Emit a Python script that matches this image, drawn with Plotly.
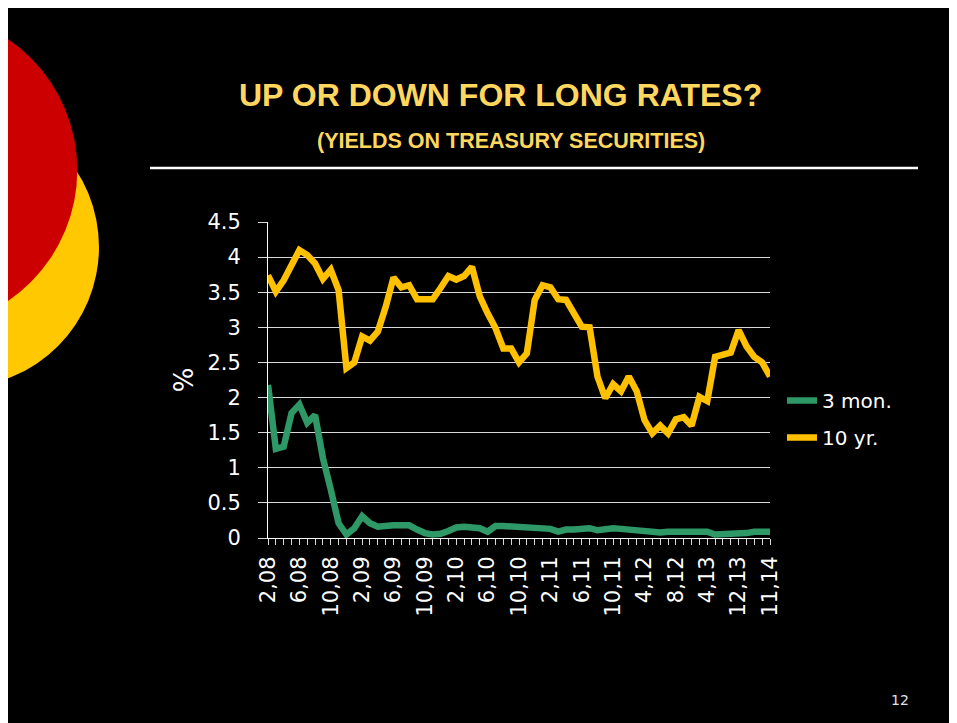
import plotly.graph_objects as go

# ---- data ----
categories = [
    "2,08", "3,08", "4,08", "5,08", "6,08", "7,08", "8,08", "9,08", "10,08", "11,08", "12,08",
    "1,09", "2,09", "3,09", "4,09", "5,09", "6,09", "7,09", "8,09", "9,09", "10,09", "11,09", "12,09",
    "1,10", "2,10", "3,10", "4,10", "5,10", "6,10", "7,10", "8,10", "9,10", "10,10", "11,10", "12,10",
    "1,11", "2,11", "3,11", "4,11", "5,11", "6,11", "7,11", "8,11", "9,11", "10,11",
    "11,11", "12,11", "2,12", "4,12", "5,12", "6,12", "7,12", "8,12", "10,12", "12,12",
    "2,13", "4,13", "6,13", "8,13", "10,13", "12,13", "3,14", "6,14", "9,14", "11,14",
]
three_mon = [2.18, 1.27, 1.30, 1.78, 1.90, 1.64, 1.75, 1.14, 0.69, 0.21,
             0.05, 0.14, 0.31, 0.21, 0.16, 0.18, 0.18, 0.18, 0.18, 0.12,
             0.07, 0.05, 0.06, 0.10, 0.15, 0.16, 0.16, 0.14, 0.09, 0.17,
             0.17, 0.16, 0.15, 0.14, 0.14, 0.12, 0.13, 0.09, 0.12, 0.12,
             0.13, 0.14, 0.11, 0.13, 0.14, 0.13, 0.12, 0.09, 0.08, 0.08,
             0.08, 0.09, 0.10, 0.09, 0.09, 0.10, 0.09, 0.05, 0.05, 0.06,
             0.06, 0.07, 0.09, 0.09, 0.09]
ten_yr = [3.74, 3.51, 3.67, 3.89, 4.10, 4.03, 3.91, 3.69, 3.82, 3.53,
          2.42, 2.50, 2.87, 2.81, 2.94, 3.29, 3.71, 3.57, 3.60, 3.40,
          3.39, 3.40, 3.56, 3.73, 3.68, 3.73, 3.86, 3.44, 3.20, 2.99,
          2.70, 2.70, 2.50, 2.63, 3.39, 3.60, 3.57, 3.40, 3.39, 3.20,
          3.01, 3.00, 2.30, 1.99, 2.19, 2.09, 2.30, 2.09, 1.68, 1.49,
          1.60, 1.49, 1.69, 1.72, 1.60, 2.01, 1.95, 2.58, 2.61, 2.64,
          2.96, 2.73, 2.58, 2.50, 2.30]
y_tick_vals = [0, 0.5, 1, 1.5, 2, 2.5, 3, 3.5, 4, 4.5]
y_tick_text = ["0", "0.5", "1", "1.5", "2", "2.5", "3", "3.5", "4", "4.5"]
x_label_step = 4

# ---- geometry (page is offset by the 8px body margin) ----
OFF = 8
W, H = 957 - OFF, 723 - OFF
L, R, T, B = 268 - OFF, 770 - OFF, 222 - OFF, 538 - OFF


def px(x):  # screenshot x -> paper
    return (x - OFF - L) / (R - L)


def py(y):  # screenshot y -> paper
    return (B - (y - OFF)) / (B - T)


tick_font = dict(family="DejaVu Sans", size=21, color="white")

fig = go.Figure()
fig.add_trace(go.Scatter(x=categories, y=three_mon, mode="lines", name="3 mon.",
                         legendgroup="a", line=dict(color="#2E9966", width=6.5)))
fig.add_trace(go.Scatter(x=categories, y=ten_yr, mode="lines", name="10 yr.",
                         legendgroup="b", line=dict(color="#FFC000", width=6.5)))

fig.update_layout(
    width=W, height=H, autosize=False,
    margin=dict(l=L, r=W - R, t=T, b=H - B, pad=0),
    paper_bgcolor="black", plot_bgcolor="black",
    showlegend=True,
    legend=dict(x=px(782), y=py(419), xanchor="left", yanchor="middle",
                font=dict(family="DejaVu Sans", size=20, color="white"),
                bgcolor="rgba(0,0,0,0)", traceorder="grouped", tracegroupgap=8,
                itemwidth=30),
    xaxis=dict(
        type="category", range=[0, len(categories) - 1],
        tickmode="array", tickvals=categories,
        ticktext=[c if i % x_label_step == 0 else "" for i, c in enumerate(categories)],
        tickangle=-90, tickfont=dict(family="DejaVu Sans", size=21, color="white"),
        ticks="outside", ticklen=6, tickcolor="#d9d9d9", tickwidth=1,
        ticklabelstandoff=3,
        showline=True, linecolor="white", linewidth=1,
        showgrid=False, zeroline=False, automargin=False,
    ),
    yaxis=dict(
        range=[0, 4.5], tickmode="array", tickvals=y_tick_vals, ticktext=y_tick_text,
        tickfont=tick_font, ticks="outside", ticklen=9, tickcolor="#d9d9d9", tickwidth=1,
        ticklabelstandoff=13,
        showgrid=True, gridcolor="#d9d9d9", gridwidth=1,
        showline=True, linecolor="white", linewidth=1, zeroline=False,
        title=dict(text="%", font=dict(family="DejaVu Sans", size=26, color="white"), standoff=6),
        automargin=False,
    ),
    shapes=[
        # decorative circles on the left
        dict(type="circle", xref="paper", yref="paper", layer="below",
             x0=px(-181.6), x1=px(99), y0=py(387.3), y1=py(106.7),
             fillcolor="#FFC800", line=dict(width=0)),
        dict(type="circle", xref="paper", yref="paper", layer="below",
             x0=px(-239.3), x1=px(77.3), y0=py(328.3), y1=py(11.7),
             fillcolor="#CC0000", line=dict(width=0)),
        # rule under subtitle
        dict(type="line", xref="paper", yref="paper", layer="above",
             x0=px(150), x1=px(918), y0=py(168), y1=py(168),
             line=dict(color="white", width=2.5)),
    ],
    annotations=[
        dict(text="<b>UP OR DOWN FOR LONG RATES?</b>", xref="paper", yref="paper",
             x=px(500), y=py(95), xanchor="center", yanchor="middle", showarrow=False,
             font=dict(family="Liberation Sans", size=32, color="#FFD75E")),
        dict(text="<b>(YIELDS ON TREASURY SECURITIES)</b>", xref="paper", yref="paper",
             x=px(511), y=py(141), xanchor="center", yanchor="middle", showarrow=False,
             font=dict(family="Liberation Sans", size=21.5, color="#FFD75E")),
        dict(text="12", xref="paper", yref="paper",
             x=px(900), y=py(700), xanchor="center", yanchor="middle", showarrow=False,
             font=dict(family="DejaVu Sans", size=14, color="#e0e0e0")),
    ],
)

fig.write_html("out.html")
